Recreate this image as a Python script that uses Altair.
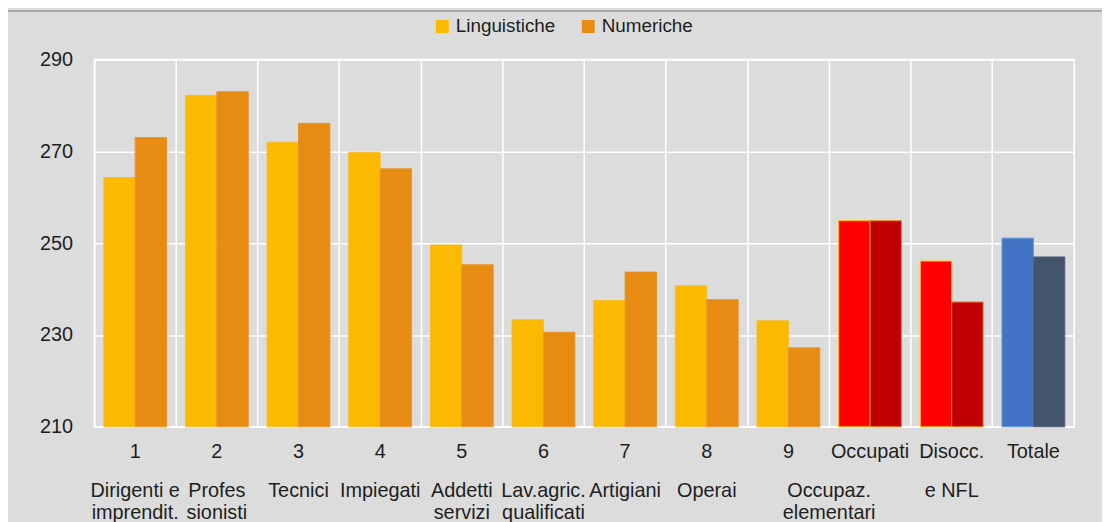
import altair as alt
import pandas as pd

categorie = ["1", "2", "3", "4", "5", "6", "7", "8", "9", "Occupati", "Disocc.", "Totale"]
nomi = ["Dirigenti e|imprendit.", "Profes|sionisti", "Tecnici", "Impiegati", "Addetti|servizi",
        "Lav.agric.|qualificati", "Artigiani", "Operai", "Occupaz.|elementari", "", "e NFL", ""]
gruppi = ["prof"] * 9 + ["cond", "cond", "tot"]
serie = ["Linguistiche", "Numeriche"]
linguistiche = [264.3, 282.2, 272.0, 269.8, 249.6, 233.3, 237.5, 240.7, 233.1, 254.9, 246.1, 251.1]
numeriche = [273.0, 283.0, 276.1, 266.2, 245.3, 230.6, 243.7, 237.7, 227.2, 254.9, 237.2, 247.0]
y_ticks = [210, 230, 250, 270, 290]

rows = []
for i, c in enumerate(categorie):
    for s, vals in zip(serie, [linguistiche, numeriche]):
        key = s if gruppi[i] == "prof" else s + " " + gruppi[i]
        rows.append({"categoria": c, "serie": s, "valore": vals[i], "chiave": key})
df = pd.DataFrame(rows)
lab = pd.DataFrame({"categoria": categorie, "nome": nomi})

FONT = "Liberation Sans, Arial, sans-serif"
FS = 20
TXT = "#1e1e1e"

key_domain = ["Linguistiche", "Numeriche", "Linguistiche cond", "Numeriche cond",
              "Linguistiche tot", "Numeriche tot"]
fill_range = ["#FBBA00", "#E88B12", "#FF0000", "#C00000", "#4472C4", "#44546A"]
stroke_range = ["#F5BE2A", "#E8942A", "#FFC000", "#E88B12", "#5B9BD5", "#4F6078"]

x_enc = alt.X("categoria:N", sort=categorie, title=None,
              scale=alt.Scale(paddingInner=0, paddingOuter=0),
              axis=alt.Axis(labels=False, ticks=False, domain=False, grid=True,
                            bandPosition=0, gridColor="white", gridWidth=1.5))

bars = alt.Chart(df).mark_bar(strokeWidth=1).encode(
    x=x_enc,
    xOffset=alt.XOffset("serie:N", sort=serie,
                        scale=alt.Scale(domain=serie, paddingOuter=0.3, paddingInner=0)),
    y=alt.Y("valore:Q", title=None,
            scale=alt.Scale(domain=[210, 290], zero=False, nice=False),
            axis=alt.Axis(values=y_ticks, domain=False, ticks=False, labelFont=FONT,
                          labelFontSize=FS, labelColor=TXT, labelPadding=22,
                          gridColor="white", gridWidth=1.5)),
    y2=alt.datum(210),
    color=alt.Color("chiave:N", scale=alt.Scale(domain=key_domain, range=fill_range),
                    legend=alt.Legend(values=serie, title=None, orient="none",
                                      legendX=341, legendY=-43, direction="horizontal",
                                      symbolType="square", symbolSize=169,
                                      symbolStrokeWidth=0, symbolOpacity=1,
                                      labelFont=FONT, labelFontSize=19,
                                      labelColor=TXT, labelOffset=4, columnPadding=23,
                                      padding=0, labelLimit=300)),
    stroke=alt.Stroke("chiave:N", scale=alt.Scale(domain=key_domain, range=stroke_range),
                      legend=None),
)

row1 = alt.Chart(lab).mark_text(font=FONT, fontSize=FS, color=TXT, baseline="alphabetic").encode(
    x=alt.X("categoria:N", sort=categorie), y=alt.value(401), text="categoria:N")

names = alt.Chart(lab).transform_filter(alt.datum.categoria != "9").mark_text(
    font=FONT, fontSize=FS, color=TXT, baseline="alphabetic", lineBreak="|", lineHeight=22
).encode(x=alt.X("categoria:N", sort=categorie), y=alt.value(441), text="nome:N")

names9 = alt.Chart(lab).transform_filter(alt.datum.categoria == "9").mark_text(
    font=FONT, fontSize=FS, color=TXT, baseline="alphabetic", lineBreak="|", lineHeight=22, dx=41
).encode(x=alt.X("categoria:N", sort=categorie), y=alt.value(441), text="nome:N")

top_line = alt.Chart(lab).mark_rule(color="#A8A8A8", strokeWidth=2).encode(
    x=alt.value(-87), x2=alt.value(1015), y=alt.value(-49))

chart = alt.layer(bars, row1, names, names9, top_line).properties(
    width=987, height=370,
    padding={"left": 87, "top": 50, "right": 28, "bottom": 100},
    autosize=alt.AutoSizeParams(type="none"),
    background="#DCDCDC",
).configure_view(stroke="white", strokeWidth=1.5)

chart.save("out.html", embed_options={"renderer": "svg", "actions": False})
